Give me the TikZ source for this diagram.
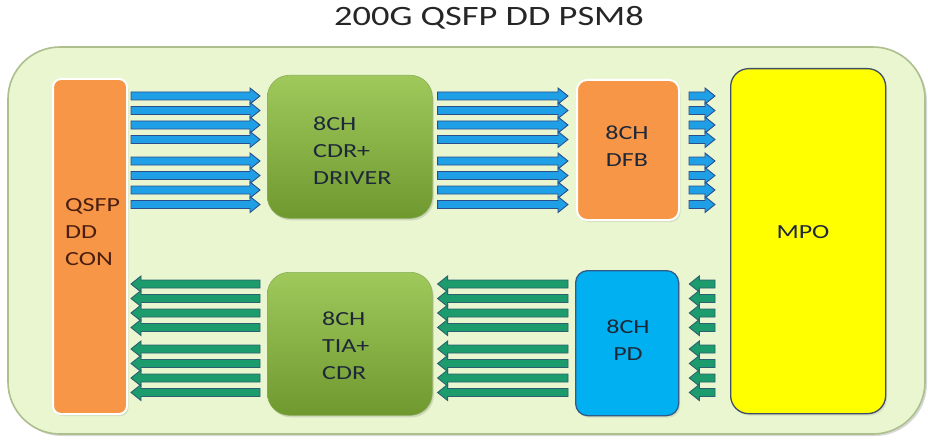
\documentclass[tikz,border=0pt]{standalone}
\usepackage{fontspec}
\setmainfont[FakeStretch=1.3]{Carlito}
\usetikzlibrary{calc,shadows}
\definecolor{outerfill}{HTML}{E9F6D0}
\definecolor{outerdraw}{HTML}{AEBF8E}
\definecolor{orangeC}{HTML}{F79646}
\definecolor{greenTop}{HTML}{A0C95C}
\definecolor{greenBot}{HTML}{6F982F}
\definecolor{pdC}{HTML}{00B0F0}
\definecolor{pdDraw}{HTML}{2F5C8A}
\definecolor{mpoDraw}{HTML}{404E66}
\definecolor{mpoFill}{HTML}{FFFF00}
\definecolor{bFill}{HTML}{1FA0E6}
\definecolor{bDraw}{HTML}{2C4F8C}
\definecolor{gFill}{HTML}{1C9C6C}
\definecolor{gDraw}{HTML}{2D6070}
\definecolor{txtC}{HTML}{1E2838}
\definecolor{brownC}{HTML}{4A1E10}
\newcommand\rarr[6]{%
  \edef\arrY{#6}%
  \draw[#1] let \p1=(#2.east), \p2=(#3.west) in
    ({\x1+#4pt},{4pt-\arrY pt}) -- ({\x2-#5pt-10pt},{4pt-\arrY pt}) --
    ({\x2-#5pt-10pt},{8pt-\arrY pt}) -- ({\x2-#5pt},{-\arrY pt}) --
    ({\x2-#5pt-10pt},{-8pt-\arrY pt}) -- ({\x2-#5pt-10pt},{-4pt-\arrY pt}) --
    ({\x1+#4pt},{-4pt-\arrY pt}) -- cycle;}
\newcommand\larr[6]{%
  \edef\arrY{#6}%
  \draw[#1] let \p1=(#2.east), \p2=(#3.west) in
    ({\x1+#4pt},{-\arrY pt}) -- ({\x1+#4pt+10pt},{8pt-\arrY pt}) --
    ({\x1+#4pt+10pt},{4pt-\arrY pt}) -- ({\x2-#5pt},{4pt-\arrY pt}) --
    ({\x2-#5pt},{-4pt-\arrY pt}) -- ({\x1+#4pt+10pt},{-4pt-\arrY pt}) --
    ({\x1+#4pt+10pt},{-8pt-\arrY pt}) -- cycle;}
\begin{document}
\begin{tikzpicture}[x=1pt,y=-1pt,
  box/.style={draw, anchor=north west, inner sep=0pt},
  gbox/.style={box, draw=greenBot!80!white, line width=0.6pt, top color=greenTop, bottom color=greenBot, rounded corners=22pt,
    drop shadow={opacity=0.25, shadow xshift=1.5pt, shadow yshift=-2pt}},
  obox/.style={box, fill=orangeC, draw=white, line width=2pt, rounded corners=10pt,
    drop shadow={opacity=0.2, shadow xshift=1.5pt, shadow yshift=-2pt}},
  txt/.style={inner sep=0pt, text=txtC, font=\fontsize{20}{27}\selectfont},
  barrow/.style={fill=bFill, draw=bDraw, line width=0.9pt, line join=miter},
  garrow/.style={fill=gFill, draw=gDraw, line width=0.9pt, line join=miter}]
\useasboundingbox (0,0) rectangle (928,441);
\fill[white] (0,0) rectangle (928,441);
\node[inner sep=0pt, text=black!85, font=\fontsize{28}{32}\selectfont] (title) at (489,18) {200G QSFP DD PSM8};
\draw[fill=outerfill, draw=outerdraw, line width=1.6pt, rounded corners=52pt,
  drop shadow={opacity=0.3, shadow xshift=2pt, shadow yshift=-2pt}] (8,47) rectangle (925,434);
% boxes
\node[obox, minimum width=74pt, minimum height=335pt, rounded corners=8pt] (qsfp) at (52,78) {};
\node[gbox, minimum width=165pt, minimum height=143pt] (drv) at (267,75) {};
\node[gbox, minimum width=165pt, minimum height=143pt] (tia) at (267,272) {};
\node[obox, minimum width=102pt, minimum height=140pt] (dfb) at (576,79) {};
\node[box, fill=pdC, draw=pdDraw, line width=1.3pt, rounded corners=12pt, minimum width=103pt, minimum height=145pt,
  drop shadow={opacity=0.2, shadow xshift=1.5pt, shadow yshift=-2pt}] (pd) at (575,270) {};
\node[box, fill=mpoFill, draw=mpoDraw, line width=1.3pt, rounded corners=18pt, minimum width=155pt, minimum height=345pt,
  drop shadow={opacity=0.2, shadow xshift=1.5pt, shadow yshift=-2pt}] (mpo) at (730,68) {};
% texts
\node[txt, text=brownC, anchor=west, align=left] (qsfpt) at (65,232) {QSFP\\DD\\CON};
\node[txt, anchor=west, align=left] (drvt) at (313,151) {8CH\\CDR+\\DRIVER};
\node[txt, anchor=west, align=left] (tiat) at (322,346) {8CH\\TIA+\\CDR};
\node[txt, align=center] (dfbt) at (627,146) {8CH\\DFB};
\node[txt, align=center] (pdt) at (628,340) {8CH\\PD};
\node[txt] (mpot) at (803,232) {MPO};
% arrows
\foreach \yy in {96,110.5,125,139.5,161,175.5,190,204.5} {
  \rarr{barrow}{qsfp}{drv}{3}{7}{\yy}
  \rarr{barrow}{drv}{dfb}{5}{8}{\yy}
  \rarr{barrow}{dfb}{mpo}{9}{15}{\yy}
}
\foreach \yy in {284,298.5,313,327.5,349,363.5,378,392.5} {
  \larr{garrow}{qsfp}{tia}{3}{7}{\yy}
  \larr{garrow}{tia}{pd}{5}{7}{\yy}
  \larr{garrow}{pd}{mpo}{10}{15}{\yy}
}
\end{tikzpicture}
\end{document}
